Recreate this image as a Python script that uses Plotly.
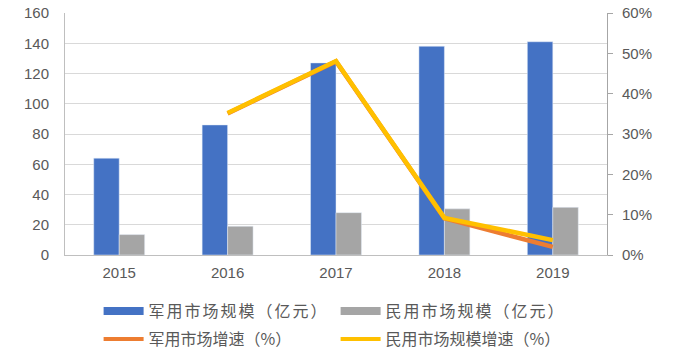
import plotly.graph_objects as go

years = ["2015", "2016", "2017", "2018", "2019"]
military = [64, 86, 127, 138, 141]
civil = [13.5, 19, 28, 30.5, 31.5]
growth_years = ["2016", "2017", "2018", "2019"]
military_growth = [0.351, 0.480, 0.091, 0.020]
civil_growth = [0.352, 0.481, 0.092, 0.037]

names = ["军用市场规模（亿元）", "民用市场规模（亿元）", "军用市场增速（%）", "民用市场规模增速（%）"]
BLUE = "#4472C4"
GRAY = "#A5A5A5"
ORANGE = "#ED7D31"
YELLOW = "#FFC000"
TXT = "#595959"
FONT = "Liberation Sans, Noto Sans CJK SC"

fig = go.Figure()
fig.add_trace(go.Bar(x=years, y=military, marker_color=BLUE, showlegend=False, name=names[0]))
fig.add_trace(go.Bar(x=years, y=civil, marker_color=GRAY, showlegend=False, name=names[1]))
fig.add_trace(go.Scatter(x=growth_years, y=military_growth, mode="lines", yaxis="y2",
                         line=dict(color=ORANGE, width=4.5), showlegend=False, name=names[2]))
fig.add_trace(go.Scatter(x=growth_years, y=civil_growth, mode="lines", yaxis="y2",
                         line=dict(color=YELLOW, width=4.5), showlegend=False, name=names[3]))

# legend proxies
for nm, col, w, lg in [(names[0], BLUE, 8, "legend"), (names[1], GRAY, 8, "legend"),
                       (names[2], ORANGE, 4, "legend2"), (names[3], YELLOW, 4, "legend2")]:
    fig.add_trace(go.Scatter(x=[None], y=[None], mode="lines", name=nm, legend=lg,
                             line=dict(color=col, width=w), showlegend=True))

leg_common = dict(orientation="h", x=0.062, xanchor="left", yref="container", yanchor="middle",
                  entrywidth=182, entrywidthmode="pixels", tracegroupgap=0,
                  font=dict(size=16, color=TXT, family="Noto Sans CJK SC"), itemwidth=40,
                  bgcolor="rgba(0,0,0,0)")

fig.update_layout(
    width=685, height=355,
    margin=dict(l=65, r=78, t=13, b=100, autoexpand=False),
    paper_bgcolor="white", plot_bgcolor="white",
    barmode="group", bargap=0.53, bargroupgap=0,
    font=dict(family=FONT, color=TXT, size=15),
    xaxis=dict(showline=True, linecolor="#BFBFBF", linewidth=1, ticks="",
               tickfont=dict(size=15, color=TXT), range=[-0.5, 4.5], ticklabelstandoff=4),
    yaxis=dict(range=[0, 160], dtick=20, showgrid=True, gridcolor="#D9D9D9",
               showline=True, linecolor="#BFBFBF", linewidth=1, zeroline=False,
               tickfont=dict(size=15, color=TXT), ticklabelstandoff=12),
    yaxis2=dict(overlaying="y", side="right", range=[0, 0.6], dtick=0.1, tickformat=".0%",
                showgrid=False, showline=True, linecolor="#A6A6A6", linewidth=1,
                ticks="outside", ticklen=5, tickcolor="#A6A6A6", zeroline=False,
                tickfont=dict(size=15, color=TXT), ticklabelstandoff=6),
    legend=dict(y=0.124, **leg_common),
    legend2=dict(y=0.045, **leg_common),
)

post = ("document.body.style.margin='0px';"
        "document.querySelectorAll('.legendtext').forEach(function(e){e.style.letterSpacing='2px';});")
fig.write_html("out.html", post_script=post, config={"displayModeBar": False})
